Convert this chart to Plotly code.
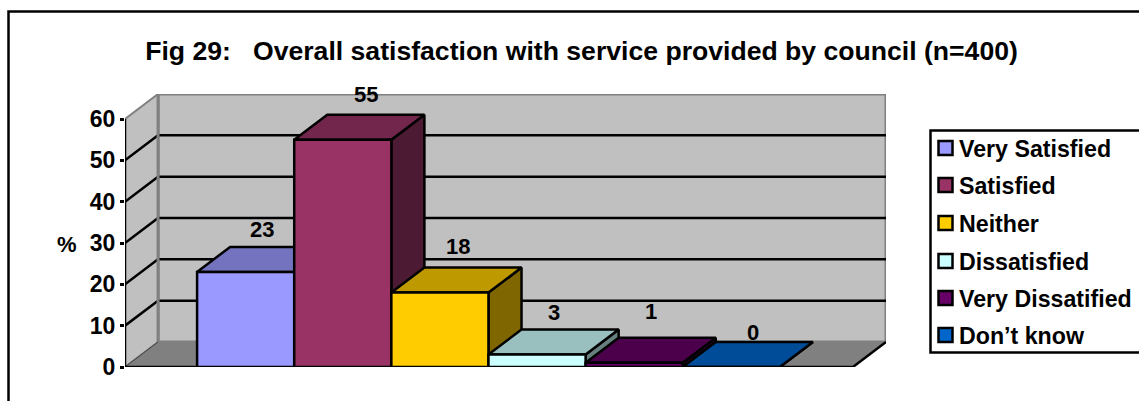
import plotly.graph_objects as go

# ---- data ----
categories = ["Very Satisfied", "Satisfied", "Neither", "Dissatisfied", "Very Dissatified", "Don\u2019t know"]
values = [23, 55, 18, 3, 1, 0]
y_ticks = [0, 10, 20, 30, 40, 50, 60]
title_text = "Fig 29:\u00a0\u00a0 Overall satisfaction with service provided by council (n=400)"
y_label = "%"

# ---- styles ----
front_colors = ["#9999FF", "#993366", "#FFCC00", "#CCFFFF", "#660066", "#0066CC"]
label_shift_x = [0, 7, 2, 0, 0, 5]
label_shift_y = [17, 20, 21, 17, 26, 9]
FONT = "Liberation Sans"
W, H = 1139, 401
PLOT_L, PLOT_R, PLOT_T, PLOT_B = 125, 886, 94, 367
BAR_PX = 97.0
FIRST_BAR_PX = 197.0
FLOOR_R_PX = 852.0
DEPTH_PX_X, DEPTH_PX_Y = 33.0, 25.0
PX_PER_UNIT = 4.125
LW = 2.5


def shade(hex_color, k):
    r, g, b = [int(hex_color[i:i + 2], 16) for i in (1, 3, 5)]
    return "#%02X%02X%02X" % (round(r * k), round(g * k), round(b * k))


def px_x(px):
    return (px - PLOT_L) / (PLOT_R - PLOT_L)


def px_y(py):
    return (PLOT_B - py) / (PLOT_B - PLOT_T)


x0 = -0.5 - (FIRST_BAR_PX - PLOT_L) / BAR_PX
x_front_end = x0 + (FLOOR_R_PX - PLOT_L) / BAR_PX
dx = DEPTH_PX_X / BAR_PX
dy = DEPTH_PX_Y / PX_PER_UNIT
y_top = max(y_ticks)
x_range = [x0, x_front_end + dx]
y_range = [0, y_top + dy]
BLACK = "#000000"
GREY = "#808080"
WALL = "#C0C0C0"

fig = go.Figure()


def poly(xs, ys, fill, line=BLACK, width=LW, z=1, closed=True):
    if closed:
        xs, ys = list(xs) + [xs[0]], list(ys) + [ys[0]]
    fig.add_trace(go.Scatter(
        x=xs, y=ys, mode="lines", fill="toself" if fill else "none", fillcolor=fill,
        line=dict(color=line, width=width), hoverinfo="skip", showlegend=False,
        cliponaxis=False, zorder=z))


# walls and floor
poly([x0 + dx, x_front_end + dx, x_front_end + dx, x0 + dx], [dy, dy, y_top + dy, y_top + dy], WALL, GREY, 3, 0)
poly([x0, x0 + dx, x0 + dx, x0], [0, dy, y_top + dy, y_top], WALL, GREY, 2, 0)
poly([x0, x_front_end, x_front_end + dx, x0 + dx], [0, 0, dy, dy], GREY, GREY, 1, 0)

# gridlines on side wall and back wall
for t in y_ticks[1:-1]:
    poly([x0, x0 + dx, x_front_end + dx], [t, t + dy, t + dy], None, BLACK, LW, 1, closed=False)

# floor and axis edges
poly([x0 + dx, x0 + dx], [dy, y_top + dy], None, GREY, 3, 1, closed=False)
poly([x0, x0 + dx], [0, dy], None, "#404040", 1, 1, closed=False)
poly([x0, x0], [-4 / PX_PER_UNIT, y_top], None, BLACK, LW, 1, closed=False)
poly([x0, x_front_end, x_front_end + dx], [0, 0, dy], None, BLACK, LW, 1, closed=False)
poly([x_front_end, x_front_end], [0, -4 / PX_PER_UNIT], None, BLACK, LW, 1, closed=False)

# bars, painted left to right
for i, (name, v, c) in enumerate(zip(categories, values, front_colors)):
    z = 2 + 2 * i
    poly([i + .5, i + .5 + dx, i + .5 + dx, i + .5], [0, dy, v + dy, v], shade(c, 0.5), BLACK, LW, z)
    poly([i - .5, i + .5, i + .5 + dx, i - .5 + dx], [v, v, v + dy, v + dy], shade(c, 0.75), BLACK, LW, z)
    fig.add_trace(go.Bar(
        x=[i], y=[v], width=1, name=name, marker=dict(color=c, line=dict(color=BLACK, width=LW)),
        showlegend=False, hoverinfo="skip", cliponaxis=False, zorder=z + 1))

annotations = []
for i, v in enumerate(values):
    annotations.append(dict(
        x=i + dx / 2, y=v + dy, xref="x", yref="y", text=str(v), showarrow=False,
        xanchor="center", yanchor="middle", xshift=label_shift_x[i], yshift=label_shift_y[i],
        font=dict(family=FONT, size=22, color=BLACK)))

annotations.append(dict(
    x=px_x(67), y=px_y(244), xref="paper", yref="paper", text=y_label, showarrow=False,
    xanchor="center", yanchor="middle", font=dict(family=FONT, size=22, color=BLACK)))

# outer frame and legend box
shapes = [
    dict(type="rect", xref="paper", yref="paper", x0=px_x(8.5), x1=px_x(1160), y0=px_y(11.5), y1=px_y(420),
         line=dict(color=BLACK, width=LW), layer="above"),
    dict(type="rect", xref="paper", yref="paper", x0=px_x(930.5), x1=px_x(1160), y0=px_y(130.5), y1=px_y(352.5),
         line=dict(color=BLACK, width=LW), fillcolor="#FFFFFF", layer="above"),
]
legend_rows = [149, 186, 224, 262, 299, 336]
for name, c, ry in zip(categories, front_colors, legend_rows):
    shapes.append(dict(type="rect", xref="paper", yref="paper", x0=px_x(938.5), x1=px_x(952.5),
                       y0=px_y(ry - 8), y1=px_y(ry + 6), fillcolor=c,
                       line=dict(color=BLACK, width=LW), layer="above"))
    annotations.append(dict(
        x=px_x(957), y=px_y(ry), xref="paper", yref="paper", text=name, showarrow=False,
        xanchor="left", yanchor="middle", font=dict(family=FONT, size=23.2, color=BLACK)))

for a in annotations:
    if a["font"]["family"] == FONT:
        a["text"] = "<b>%s</b>" % a["text"]

fig.update_layout(
    width=W, height=H, autosize=False,
    margin=dict(l=PLOT_L, r=W - PLOT_R, t=PLOT_T, b=H - PLOT_B, pad=0),
    paper_bgcolor="#FFFFFF", plot_bgcolor="#FFFFFF",
    barmode="overlay", showlegend=False,
    title=dict(text="<b>%s</b>" % title_text, font=dict(family=FONT, size=26.6, color=BLACK),
               x=581.5 / W, xref="container", xanchor="center",
               y=1 - 50.5 / H, yref="container", yanchor="middle"),
    xaxis=dict(range=x_range, visible=False, fixedrange=True),
    yaxis=dict(range=y_range, tickmode="array", tickvals=y_ticks, ticktext=[str(t) for t in y_ticks],
               ticks="outside", ticklen=4, tickwidth=LW, tickcolor=BLACK, showgrid=False, zeroline=False,
               showline=False, fixedrange=True, ticklabelstandoff=0,
               tickfont=dict(family=FONT, size=23, color=BLACK, weight="bold")),
    shapes=shapes, annotations=annotations,
)
fig.write_html("out.html", config=dict(displayModeBar=False),
               post_script="document.body.style.margin='0';document.documentElement.style.overflow='hidden';")
